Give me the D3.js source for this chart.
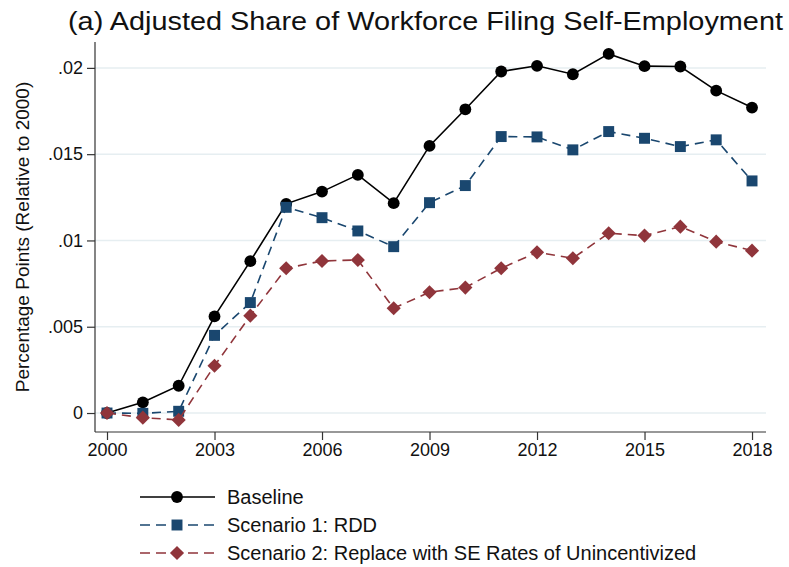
<!DOCTYPE html>
<html>
<head>
<script src="https://cdn.jsdelivr.net/npm/d3@7"></script>
<style>
  body { margin: 0; background: #fff; }
  text { font-family: "Liberation Sans", Arial, sans-serif; fill: #111; }
</style>
</head>
<body>
<svg id="chart" width="789" height="567"></svg>
<script>
// data
var years = [2000, 2001, 2002, 2003, 2004, 2005, 2006, 2007, 2008, 2009,
             2010, 2011, 2012, 2013, 2014, 2015, 2016, 2017, 2018];
var baseline = [0, 0.00062, 0.00158, 0.0056, 0.0088, 0.01212, 0.01283, 0.0138, 0.01216, 0.01548,
                0.0176, 0.01979, 0.02012, 0.01963, 0.02081, 0.0201, 0.02008, 0.01868, 0.0177];
var rdd = [0, -0.00002, 0.0001, 0.0045, 0.0064, 0.01192, 0.01132, 0.01055, 0.00964, 0.01219,
           0.01318, 0.01602, 0.016, 0.01525, 0.01631, 0.01592, 0.01544, 0.01583, 0.01345];
var replace = [0, -0.00027, -0.0004, 0.00274, 0.00564, 0.00839, 0.00881, 0.00887, 0.00607, 0.007,
               0.00727, 0.00839, 0.00931, 0.00897, 0.01042, 0.01028, 0.0108, 0.00993, 0.00941];
var xTicks = [2000, 2003, 2006, 2009, 2012, 2015, 2018];
var yTicks = [0, 0.005, 0.01, 0.015, 0.02];
var yTickLabels = ["0", ".005", ".01", ".015", ".02"];
var seriesNames = ["Baseline", "Scenario 1: RDD", "Scenario 2: Replace with SE Rates of Unincentivized"];

var svg = d3.select("#chart");
var plotL = 95, plotR = 766, plotT = 42, plotB = 432;

var x = d3.scaleLinear().domain([1999.665, 2018.39]).range([plotL, plotR]);
var y = d3.scaleLinear().domain([-0.0011, 0.0215]).range([plotB, plotT]);

// gridlines
svg.append("g").selectAll("line").data(yTicks).join("line")
    .attr("x1", plotL).attr("x2", plotR)
    .attr("y1", function(d) { return y(d); }).attr("y2", function(d) { return y(d); })
    .attr("stroke", "#e6eef1").attr("stroke-width", 1.5);

// axes
var yAxis = d3.axisLeft(y).tickValues(yTicks).tickSize(8).tickPadding(4)
    .tickFormat(function(d, i) { return yTickLabels[i]; });
var gy = svg.append("g").attr("transform", "translate(" + plotL + ",0)").call(yAxis);
var xAxis = d3.axisBottom(x).tickValues(xTicks).tickSize(8).tickPadding(3).tickFormat(d3.format("d"));
var gx = svg.append("g").attr("transform", "translate(0," + plotB + ")").call(xAxis);
[gy, gx].forEach(function(g) {
    g.select(".domain").attr("stroke", "#333").attr("stroke-width", 1.2);
    g.selectAll(".tick line").attr("stroke", "#333").attr("stroke-width", 1.2);
    g.selectAll("text").style("font-size", "18px").attr("fill", "#111")
        .style("font-family", "'Liberation Sans', Arial, sans-serif");
});
gx.select(".domain").attr("d", "M" + plotL + ",0H" + plotR);
gy.select(".domain").attr("d", "M0," + plotT + "V" + plotB);

// axis title
svg.append("text")
    .attr("transform", "translate(29,237) rotate(-90)")
    .attr("text-anchor", "middle").style("font-size", "19px")
    .text("Percentage Points (Relative to 2000)");

// title
svg.append("text").attr("x", 68).attr("y", 30)
    .attr("textLength", 715).attr("lengthAdjust", "spacingAndGlyphs")
    .style("font-size", "25px")
    .text("(a) Adjusted Share of Workforce Filing Self-Employment");

// diamonds are squares turned 45 degrees
var series = [
    { values: baseline, color: "#000000", dash: null, shape: d3.symbolCircle, size: 110, rot: 0 },
    { values: rdd, color: "#1a476f", dash: "9,6", shape: d3.symbolSquare, size: 120, rot: 0 },
    { values: replace, color: "#90353b", dash: "9,6", shape: d3.symbolSquare, size: 100, rot: 45 }
];

var line = d3.line()
    .x(function(d, i) { return x(years[i]); })
    .y(function(d) { return y(d); });

series.forEach(function(s) {
    svg.append("path").datum(s.values)
        .attr("d", line).attr("fill", "none")
        .attr("stroke", s.color).attr("stroke-width", 1.6)
        .attr("stroke-dasharray", s.dash);
    svg.append("g").selectAll("path").data(s.values).join("path")
        .attr("d", d3.symbol().type(s.shape).size(s.size))
        .attr("transform", function(d, i) {
            return "translate(" + x(years[i]) + "," + y(d) + ") rotate(" + s.rot + ")";
        })
        .attr("fill", s.color);
});

// legend
var legRows = [497, 525, 553];
series.forEach(function(s, i) {
    var g = svg.append("g").attr("transform", "translate(0," + legRows[i] + ")");
    g.append("line").attr("x1", 140).attr("x2", 215).attr("y1", 0).attr("y2", 0)
        .attr("stroke", s.color).attr("stroke-width", 1.6)
        .attr("stroke-dasharray", s.dash ? "10,6" : null);
    g.append("path").attr("d", d3.symbol().type(s.shape).size(s.size))
        .attr("transform", "translate(177,0) rotate(" + s.rot + ")").attr("fill", s.color);
    g.append("text").attr("x", 227).attr("y", 7).style("font-size", "20px").text(seriesNames[i]);
});
</script>
</body>
</html>
